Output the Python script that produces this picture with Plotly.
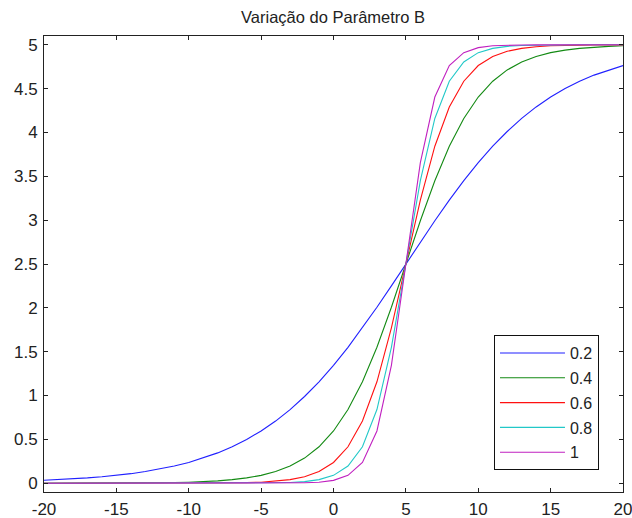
import plotly.graph_objects as go

# x positions (integer steps)
x_vals = list(range(-20, 21))

# Values, one list per B parameter
b_labels = ["0.2", "0.4", "0.6", "0.8", "1"]

y_b02 = [0.034, 0.041, 0.050, 0.061, 0.074, 0.090, 0.109, 0.133, 0.162, 0.196,
         0.237, 0.287, 0.346, 0.416, 0.499, 0.596, 0.709, 0.840, 0.989, 1.157,
         1.345, 1.550, 1.772, 2.007, 2.251, 2.500, 2.749, 2.993, 3.228, 3.450,
         3.655, 3.843, 4.011, 4.160, 4.291, 4.404, 4.501, 4.584, 4.654, 4.713, 4.763]
y_b04 = [0.000, 0.000, 0.001, 0.001, 0.001, 0.002, 0.003, 0.004, 0.006, 0.008,
         0.012, 0.018, 0.027, 0.041, 0.061, 0.090, 0.133, 0.196, 0.287, 0.416,
         0.596, 0.840, 1.157, 1.550, 2.007, 2.500, 2.993, 3.450, 3.843, 4.160,
         4.404, 4.584, 4.713, 4.804, 4.867, 4.910, 4.939, 4.959, 4.973, 4.982, 4.988]
y_b06 = [0.000, 0.000, 0.000, 0.000, 0.000, 0.000, 0.000, 0.000, 0.000, 0.000,
         0.001, 0.001, 0.002, 0.004, 0.007, 0.012, 0.023, 0.041, 0.074, 0.133,
         0.237, 0.416, 0.709, 1.157, 1.772, 2.500, 3.228, 3.843, 4.291, 4.584,
         4.763, 4.867, 4.926, 4.959, 4.978, 4.988, 4.993, 4.996, 4.998, 4.999, 4.999]
y_b08 = [0.000, 0.000, 0.000, 0.000, 0.000, 0.000, 0.000, 0.000, 0.000, 0.000,
         0.000, 0.000, 0.000, 0.000, 0.001, 0.002, 0.004, 0.008, 0.018, 0.041,
         0.090, 0.196, 0.416, 0.840, 1.550, 2.500, 3.450, 4.160, 4.584, 4.804,
         4.910, 4.959, 4.982, 4.992, 4.996, 4.998, 4.999, 5.000, 5.000, 5.000, 5.000]
y_b10 = [0.000, 0.000, 0.000, 0.000, 0.000, 0.000, 0.000, 0.000, 0.000, 0.000,
         0.000, 0.000, 0.000, 0.000, 0.000, 0.000, 0.001, 0.002, 0.005, 0.012,
         0.033, 0.090, 0.237, 0.596, 1.345, 2.500, 3.655, 4.404, 4.763, 4.910,
         4.967, 4.988, 4.995, 4.998, 4.999, 5.000, 5.000, 5.000, 5.000, 5.000, 5.000]

series = [y_b02, y_b04, y_b06, y_b08, y_b10]
colors = ["#2020ff", "#138a13", "#ff1010", "#22c8c8", "#c020c0"]

x_tickvals = [-20, -15, -10, -5, 0, 5, 10, 15, 20]
x_ticktext = ["-20", "-15", "-10", "-5", "0", "5", "10", "15", "20"]
y_tickvals = [0, 0.5, 1, 1.5, 2, 2.5, 3, 3.5, 4, 4.5, 5]
y_ticktext = ["0", "0.5", "1", "1.5", "2", "2.5", "3", "3.5", "4", "4.5", "5"]

fig = go.Figure()
for i, (lab, ys, col) in enumerate(zip(b_labels, series, colors)):
    fig.add_trace(go.Scatter(
        x=x_vals, y=ys, mode="lines", name=lab, legendgroup=f"g{i}",
        line=dict(color=col, width=1.1),
    ))

font_family = "Liberation Sans, Arial, sans-serif"
axis_common = dict(
    showgrid=False, zeroline=False, showline=True, linecolor="#222",
    linewidth=1, mirror="ticks", ticks="inside", ticklen=4,
    tickcolor="#222", tickwidth=1, automargin=False,
    ticklabeloverflow="allow",
    tickfont=dict(family=font_family, size=17, color="#222"),
)

fig.update_layout(
    width=632, height=518,
    margin=dict(l=44, r=9, t=36, b=26, autoexpand=False),
    paper_bgcolor="white", plot_bgcolor="white",
    title=dict(text="Variação do Parâmetro B", x=0.527, xanchor="center",
               y=0.967, yanchor="middle", automargin=False,
               font=dict(family=font_family, size=16.5, color="#222")),
    xaxis=dict(range=[-20, 20], tickvals=x_tickvals, ticktext=x_ticktext,
               ticklabelstandoff=2, **axis_common),
    yaxis=dict(range=[-0.1, 5.1], tickvals=y_tickvals, ticktext=y_ticktext,
               ticklabelstandoff=2, **axis_common),
    legend=dict(x=0.9585, xanchor="right", y=0.048, yanchor="bottom",
                bgcolor="white", bordercolor="#111", borderwidth=1,
                itemwidth=65,
                font=dict(family=font_family, size=16, color="#222"),
                tracegroupgap=1, traceorder="grouped"),
    showlegend=True,
)

# remove the default 8px page margin so the 632x518 figure fills the window
fig.write_html(
    "out.html",
    config={"displayModeBar": False},
    post_script="document.body.style.margin='0';document.body.style.overflow='hidden';",
)
